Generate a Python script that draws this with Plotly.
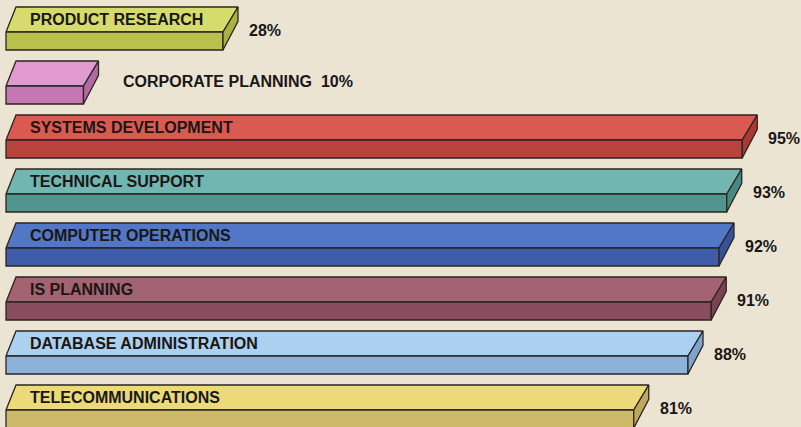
import plotly.graph_objects as go

categories = [
    "PRODUCT RESEARCH",
    "CORPORATE PLANNING",
    "SYSTEMS DEVELOPMENT",
    "TECHNICAL SUPPORT",
    "COMPUTER OPERATIONS",
    "IS PLANNING",
    "DATABASE ADMINISTRATION",
    "TELECOMMUNICATIONS",
]
percent = [28, 10, 95, 93, 92, 91, 88, 81]

top_colors = ["#d5dc6c", "#e09ad0", "#d95a50", "#72b6b1", "#5177c6", "#a36372", "#acd0f0", "#ecd97a"]
front_colors = ["#b9c14c", "#c477b3", "#b9433d", "#51958f", "#3f5ca9", "#8a4d5d", "#8cb2da", "#cdb967"]
side_colors = ["#a9b142", "#b369a3", "#a93a35", "#478882", "#37519a", "#7b4352", "#7ea3cc", "#bca95c"]

W, H = 801, 427
X_PX = 7.75   # pixels per percent
X0 = 6        # pixel position of 0 %
ROW_PX = 54   # pixels between bars
Y0 = 32       # pixel of first bar's front top edge

OUTLINE = "#2b2522"
INK = "#1a1614"
FONT = "Liberation Sans, Arial, sans-serif"


def ux(px):
    return px / X_PX


def uy(px):
    return px / ROW_PX


DX_L, DX_R = ux(10), ux(15)
DEPTH, FRONT = uy(25), uy(18)

fig = go.Figure()


def face(xs, ys, color):
    fig.add_trace(
        go.Scatter(
            x=xs + [xs[0]],
            y=ys + [ys[0]],
            mode="lines",
            fill="toself",
            fillcolor=color,
            line=dict(color=OUTLINE, width=1.3),
            hoverinfo="skip",
            showlegend=False,
        )
    )


for i, (name, v) in enumerate(zip(categories, percent)):
    # top face
    face([0, DX_L, v + DX_R, v], [i, i - DEPTH, i - DEPTH, i], top_colors[i])
    # front face
    face([0, v, v, 0], [i, i, i + FRONT, i + FRONT], front_colors[i])
    # right side
    face([v, v + DX_R, v + DX_R, v],
         [i, i - DEPTH, i - DEPTH + FRONT * 0.8, i + FRONT], side_colors[i])

    fits = len(name) * 10 < v * X_PX - 30
    if fits:
        fig.add_annotation(x=ux(22), y=i - DEPTH / 2, text=name, xanchor="left",
                           yanchor="middle", showarrow=False,
                           font=dict(family=FONT, size=16, color=INK, weight="bold"))
        fig.add_annotation(x=v + DX_R + ux(9), y=i - 0.03, text=f"{v}%", xanchor="left",
                           yanchor="middle", showarrow=False,
                           font=dict(family=FONT, size=16, color=INK, weight="bold"))
    else:
        fig.add_annotation(x=v + DX_R + ux(22), y=i - 0.08, text=f"{name}  {v}%",
                           xanchor="left", yanchor="middle", showarrow=False,
                           font=dict(family=FONT, size=16, color=INK, weight="bold"))

fig.update_xaxes(range=[-X0 / X_PX, (W - X0) / X_PX], visible=False, fixedrange=True)
fig.update_yaxes(range=[(H - Y0) / ROW_PX, -Y0 / ROW_PX], visible=False, fixedrange=True)
fig.update_layout(
    width=W,
    height=H,
    margin=dict(l=0, r=0, t=0, b=0),
    paper_bgcolor="#ebe4d3",
    plot_bgcolor="#ebe4d3",
    hovermode=False,
)

fig.write_html(
    "out.html",
    config={"displayModeBar": False},
    post_script="document.body.style.margin='0';document.body.style.background='#ebe4d3';",
)
